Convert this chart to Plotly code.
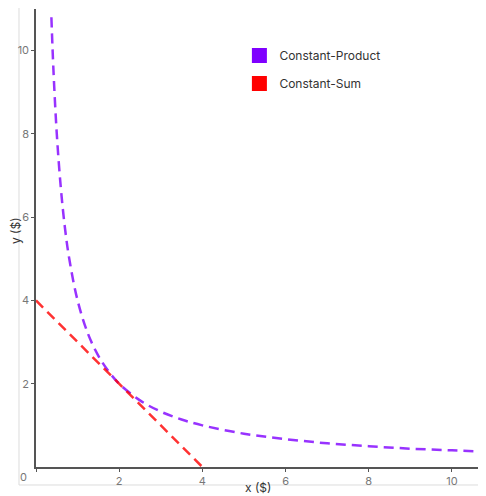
import plotly.graph_objects as go

# Constant-product curve (x*y = k)
cp_x = [0.37, 0.42, 0.5, 0.6, 0.7, 0.8, 1.0, 1.25, 1.5, 1.75, 2.0, 2.5, 3.0, 3.5, 4.0, 5.0, 6.0, 7.0, 8.0, 9.0, 10.0, 11.0]
cp_y = [10.8, 9.52, 8.0, 6.67, 5.71, 5.0, 4.0, 3.2, 2.67, 2.29, 2.0, 1.6, 1.33, 1.14, 1.0, 0.8, 0.67, 0.57, 0.5, 0.44, 0.4, 0.36]

# Constant-sum line (x + y = k)
cs_x = [0.0, 4.0]
cs_y = [4.0, 0.0]

series_names = ["Constant-Product", "Constant-Sum"]
series_colors = ["#7F00FF", "#FF0000"]

x_ticks = [0, 2, 4, 6, 8, 10]
x_ticktext = ["", "2", "4", "6", "8", "10"]
y_ticks = [2, 4, 6, 8, 10]
y_ticktext = ["2", "4", "6", "8", "10"]

FONT = "Inter, 'Noto Sans', sans-serif"

fig = go.Figure()
fig.add_trace(go.Scatter(x=cp_x, y=cp_y, mode="lines", showlegend=False,
                         line=dict(color=series_colors[0], width=2.5, dash="10px,6px", shape="spline"),
                         opacity=0.8, hoverinfo="skip"))
fig.add_trace(go.Scatter(x=cs_x, y=cs_y, mode="lines", showlegend=False,
                         line=dict(color=series_colors[1], width=2.5, dash="10px,6px"),
                         opacity=0.8, hoverinfo="skip"))
for i, (n, c) in enumerate(zip(series_names, series_colors)):
    fig.add_trace(go.Scatter(x=[None], y=[None], mode="markers", name=n,
                             legendgroup=n,
                             marker=dict(symbol="square", size=15, color=c)))

fig.update_layout(
    width=478, height=488,
    margin=dict(l=28, r=0, t=1, b=29),
    paper_bgcolor="white", plot_bgcolor="white",
    font=dict(family=FONT, size=12, color="#333"),
    showlegend=True,
    legend=dict(x=0.452, y=0.93, xanchor="left", yanchor="top",
                bgcolor="rgba(0,0,0,0)", tracegroupgap=9,
                font=dict(size=12, color="#333")),
    xaxis=dict(range=[0, 10.82], tickvals=x_ticks, ticktext=x_ticktext,
               showgrid=False, zeroline=False, showline=True, linecolor="#555", linewidth=1.5,
               ticks="outside", ticklen=3, tickcolor="#555", tickwidth=1,
               tickfont=dict(size=11, color="#777")),
    yaxis=dict(range=[0, 11], tickvals=y_ticks, ticktext=y_ticktext,
               showgrid=False, zeroline=False, showline=True, linecolor="#555", linewidth=1.5,
               ticks="outside", ticklen=3, tickcolor="#555", tickwidth=1,
               tickfont=dict(size=11, color="#777")),
    shapes=[dict(type="rect", xref="paper", yref="paper",
                 x0=-0.0378, x1=1.1, y0=-0.0393, y1=1.1,
                 line=dict(color="#dcdcdc", width=1), layer="below")],
    annotations=[
        dict(text="0", xref="paper", yref="paper", x=-0.027, y=-0.022,
             showarrow=False, font=dict(size=11, color="#777"), xanchor="center", yanchor="middle"),
        dict(text="x ($)", xref="paper", yref="paper", x=0.493, y=-0.044,
             showarrow=False, font=dict(size=12, color="#333"), xanchor="center", yanchor="middle"),
        dict(text="y ($)", xref="paper", yref="paper", x=-0.047, y=0.517, textangle=-90,
             showarrow=False, font=dict(size=12, color="#333"), xanchor="center", yanchor="middle"),
    ],
)

fig.write_html("out.html")
